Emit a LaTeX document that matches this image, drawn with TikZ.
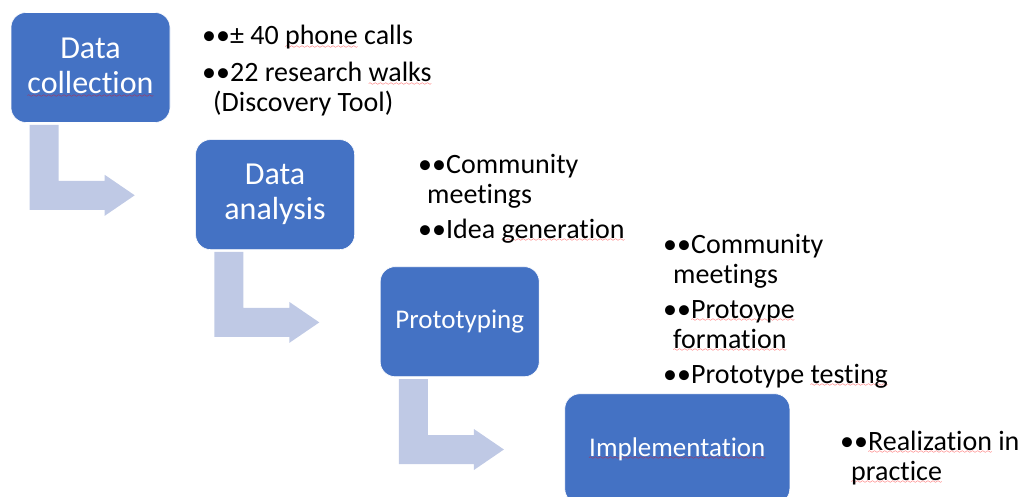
\documentclass[tikz,border=0pt]{standalone}
\usepackage{fontspec}
\setmainfont{Carlito}[Ligatures=NoCommon]
\usepackage{xcolor}
\usetikzlibrary{positioning}
\definecolor{stageblue}{HTML}{4472C4}
\definecolor{arrowblue}{HTML}{BFC9E5}
\font\wavefont=lasy6
\newcommand\sq[1]{\setbox0=\hbox{#1}\rlap{\color{red}\lower3.5pt\hbox to \wd0{\xleaders\hbox{\wavefont\char58}\hfil}}\box0\relax}

\begin{document}
\begin{tikzpicture}[x=1pt,y=-1pt,
		stage/.style={rounded corners=15pt, fill=stageblue, draw=white, line width=0.6pt, text=white, minimum width=159pt, minimum height=110pt, align=center, inner sep=4pt},
		big/.style={font=\fontsize{32}{35}\selectfont},
		small/.style={font=\fontsize{27}{30}\selectfont},
		notes/.style={anchor=base west, align=left, inner sep=0pt, font=\fontsize{28}{30}\selectfont},
		bent/.style={fill=arrowblue}]
		\useasboundingbox (0,0) rectangle (1022,497);
		% stages
		\node[stage, big] (dc) at (90.5,67.5) {Data\\\sq{collection}};
		\node[stage, big, below right=16.5pt and 25pt of dc] (da) {Data\\analysis};
		\node[stage, small, below right=16.5pt and 25pt of da] (pt) {Prototyping};
		\node[stage, small, minimum width=225pt, below right=16.5pt and 25pt of pt] (im) {\sq{Implementation}};
		% bent arrows
		\foreach \s in {dc,da,pt}
			\fill[bent, shift={(\s.south west)}] (19,2) -- (48,2) -- (48,58) -- (94,58) -- (94,52) -- (124,72.5) -- (94,93) -- (94,87) -- (19,87) -- cycle;
		% notes (anchored at the last baseline)
		\node[notes] (dcnotes) at (202,112) {••± 40 \sq{phone} calls\\[7pt]••22 research \sq{walks}\\\hspace*{11pt}(Discovery Tool)};
		\node[notes] (danotes) at (418,238) {••Community\\\hspace*{9pt}meetings\\[5pt]••Idea \sq{generation}};
		\node[notes] (ptnotes) at (663,383) {••Community\\\hspace*{10pt}meetings\\[5pt]••\sq{Protoype}\\\hspace*{10pt}\sq{formation}\\[5pt]••Prototype \sq{testing}};
		\node[notes] (imnotes) at (840,480) {••\sq{Realization} in\\\hspace*{11pt}\sq{practice}};
	\end{tikzpicture}
\end{document}
